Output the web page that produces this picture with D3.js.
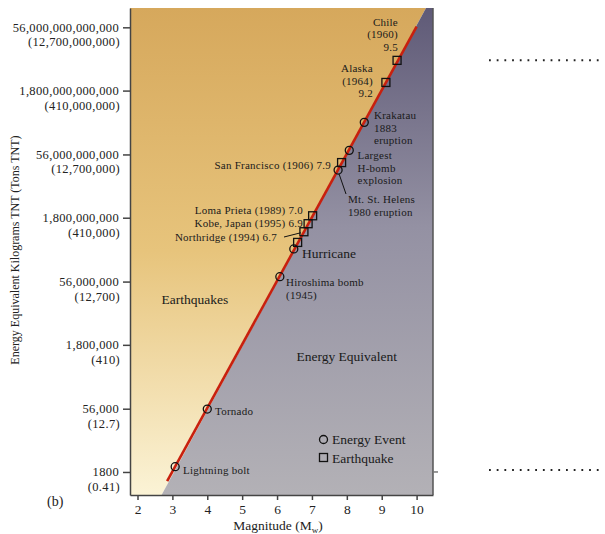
<!DOCTYPE html>
<html>
<head>
<meta charset="utf-8">
<script src="https://cdn.jsdelivr.net/npm/d3@7"></script>
<style>
  body { margin: 0; background: #fff; }
  svg { display: block; font-family: "Liberation Serif", "DejaVu Serif", serif; }
</style>
</head>
<body>
<svg id="chart" width="605" height="534"></svg>
<script>
// magnitude ticks and energy ticks (kg TNT, with tons in brackets)
const xTicks = [2, 3, 4, 5, 6, 7, 8, 9, 10];
const yTicks = [1800, 56000, 1.8e6, 5.6e7, 1.8e9, 5.6e10, 1.8e12, 5.6e13];
const yTickKg = ["1800", "56,000", "1,800,000", "56,000,000", "1,800,000,000",
  "56,000,000,000", "1,800,000,000,000", "56,000,000,000,000"];
const yTickTons = ["(0.41)", "(12.7)", "(410)", "(12,700)", "(410,000)",
  "(12,700,000)", "(410,000,000)", "(12,700,000,000)"];

// red trend line end points [magnitude, kg]
const trendLine = [[2.85, 1100], [10.0, 5.8e13]];
// edge between the two shaded areas
const areaEdge = [[2.69, 515], [10.27, 1.6e14]];

// energy events (circles)
const eventNames = ["Lightning bolt", "Tornado", "Hiroshima bomb", "Hurricane",
  "Mt. St. Helens", "Largest H-bomb", "Krakatau"];
const eventMag = [3.08, 4.0, 6.08, 6.48, 7.75, 8.07, 8.5];
const eventKg = [2400, 55000, 7.3e7, 3.3e8, 2.4e10, 7.0e10, 3.2e11];

// earthquakes (squares)
const quakeNames = ["Chile", "Alaska", "San Francisco", "Loma Prieta", "Kobe",
  "Northridge", ""];
const quakeMag = [9.44, 9.12, 7.85, 7.02, 6.89, 6.77, 6.59];
const quakeKg = [9.3e12, 2.8e12, 3.6e10, 2.0e9, 1.3e9, 8.4e8, 4.7e8];

const svg = d3.select("#chart");
const plotLeft = 130, plotRight = 433, plotTop = 8, plotBottom = 495;

const xScale = d3.scaleLinear().domain([1.785, 10.47]).range([plotLeft, plotRight]);
const yScale = d3.scaleLog().domain([515, 1.6e14]).range([plotBottom, plotTop]);

// gradients
const defs = svg.append("defs");
const tanGrad = defs.append("linearGradient").attr("id", "tan")
  .attr("x1", 0).attr("y1", 0).attr("x2", 0).attr("y2", 1);
tanGrad.append("stop").attr("offset", "0%").attr("stop-color", "#d6a85c");
tanGrad.append("stop").attr("offset", "50%").attr("stop-color", "#e7c47c");
tanGrad.append("stop").attr("offset", "100%").attr("stop-color", "#fbf3d6");
const greyGrad = defs.append("linearGradient").attr("id", "grey")
  .attr("x1", 0).attr("y1", 0).attr("x2", 0).attr("y2", 1);
greyGrad.append("stop").attr("offset", "0%").attr("stop-color", "#5f5a77");
greyGrad.append("stop").attr("offset", "45%").attr("stop-color", "#9491a3");
greyGrad.append("stop").attr("offset", "100%").attr("stop-color", "#b3b1b6");

const e0 = [xScale(areaEdge[0][0]), yScale(areaEdge[0][1])];
const e1 = [xScale(areaEdge[1][0]), yScale(areaEdge[1][1])];

svg.append("polygon")
  .attr("points", [[plotLeft, plotTop], [plotLeft, plotBottom], e0, e1].map((p) => p.join(",")).join(" "))
  .attr("fill", "url(#tan)");
svg.append("polygon")
  .attr("points", [e0, e1, [plotRight, plotTop], [plotRight, plotBottom]].map((p) => p.join(",")).join(" "))
  .attr("fill", "url(#grey)");

// trend line
svg.append("path")
  .datum(trendLine)
  .attr("d", d3.line().x((d) => xScale(d[0])).y((d) => yScale(d[1])))
  .attr("stroke", "#c8200e")
  .attr("stroke-width", 2.6)
  .attr("fill", "none");

// x axis
const xAxis = svg.append("g")
  .attr("transform", `translate(0,${plotBottom})`)
  .call(d3.axisBottom(xScale).tickValues(xTicks).tickSize(5).tickSizeOuter(0).tickPadding(4));
xAxis.select(".domain").attr("stroke", "#444").attr("stroke-width", 1.5);
xAxis.selectAll(".tick line").attr("stroke", "#444").attr("stroke-width", 1.5);
xAxis.selectAll(".tick text")
  .attr("font-family", "Liberation Serif, serif")
  .attr("font-size", 13.5)
  .attr("fill", "#222");

// y axis
const yAxis = svg.append("g")
  .attr("transform", `translate(${plotLeft},0)`)
  .call(d3.axisLeft(yScale).tickValues(yTicks).tickSize(7).tickSizeOuter(0).tickFormat(() => ""));
yAxis.select(".domain").attr("stroke", "#444").attr("stroke-width", 1.5);
yAxis.selectAll(".tick line").attr("stroke", "#444").attr("stroke-width", 1.5);
yAxis.selectAll(".tick text").remove();
yAxis.selectAll(".tick").each(function (d, i) {
  const g = d3.select(this);
  const style = (t) => t
    .attr("text-anchor", "end")
    .attr("font-family", "Liberation Serif, serif")
    .attr("font-size", 12.5)
    .attr("letter-spacing", 0.35)
    .attr("fill", "#222");
  g.append("text").call(style).attr("x", -11).attr("y", 4).text(yTickKg[i]);
  g.append("text").call(style).attr("x", -10).attr("y", 18.5).text(yTickTons[i]);
});

// right border with its tick
svg.append("line")
  .attr("x1", plotRight).attr("x2", plotRight).attr("y1", plotTop).attr("y2", plotBottom)
  .attr("stroke", "#555").attr("stroke-width", 1.5);
svg.append("line")
  .attr("x1", plotRight).attr("x2", plotRight + 5)
  .attr("y1", yScale(yTicks[0])).attr("y2", yScale(yTicks[0]))
  .attr("stroke", "#777").attr("stroke-width", 1.5);

// dotted leaders to the right
svg.selectAll("line.dots")
  .data([quakeKg[0], 2000])
  .enter()
  .append("line")
  .attr("class", "dots")
  .attr("x1", 489).attr("x2", 603)
  .attr("y1", (d) => yScale(d)).attr("y2", (d) => yScale(d))
  .attr("stroke", "#222")
  .attr("stroke-width", 2)
  .attr("stroke-dasharray", "1.8 5.9");

// axis titles
svg.append("text")
  .attr("transform", "translate(19,250) rotate(-90)")
  .attr("text-anchor", "middle")
  .attr("font-size", 12)
  .attr("fill", "#222")
  .text("Energy Equivalent Kilograms TNT (Tons TNT)");

const xTitle = svg.append("text")
  .attr("x", 278).attr("y", 530)
  .attr("text-anchor", "middle")
  .attr("font-size", 13.5)
  .attr("fill", "#222");
xTitle.append("tspan").text("Magnitude (M");
xTitle.append("tspan").attr("font-size", 9).attr("dy", 3).text("w");
xTitle.append("tspan").attr("dy", -3).text(")");

svg.append("text")
  .attr("x", 47).attr("y", 506)
  .attr("font-size", 14)
  .attr("fill", "#222")
  .text("(b)");

// markers
svg.selectAll("circle.event")
  .data(eventMag)
  .enter()
  .append("circle")
  .attr("class", "event")
  .attr("cx", (d) => xScale(d))
  .attr("cy", (d, i) => yScale(eventKg[i]))
  .attr("r", 4)
  .attr("fill", "none")
  .attr("stroke", "#111")
  .attr("stroke-width", 1.3);

svg.selectAll("rect.quake")
  .data(quakeMag)
  .enter()
  .append("rect")
  .attr("class", "quake")
  .attr("x", (d) => xScale(d) - 4)
  .attr("y", (d, i) => yScale(quakeKg[i]) - 4)
  .attr("width", 8)
  .attr("height", 8)
  .attr("fill", "none")
  .attr("stroke", "#111")
  .attr("stroke-width", 1.3);

// leader lines
const stHelens = [xScale(eventMag[4]), yScale(eventKg[4])];
svg.append("line")
  .attr("x1", stHelens[0] + 1).attr("y1", stHelens[1] + 4)
  .attr("x2", 346).attr("y2", 194)
  .attr("stroke", "#111").attr("stroke-width", 1);
svg.append("line")
  .attr("x1", 284).attr("y1", 237)
  .attr("x2", xScale(quakeMag[5]) - 3).attr("y2", yScale(quakeKg[5]) + 1)
  .attr("stroke", "#111").attr("stroke-width", 1);

// text labels
const labels = [
  { x: 398, y: 25.5, a: "end", lines: ["Chile", "(1960)", "9.5"] },
  { x: 373, y: 72, a: "end", lines: ["Alaska", "(1964)", "9.2"] },
  { x: 374, y: 119, a: "start", lines: ["Krakatau", "1883", "eruption"] },
  { x: 357.5, y: 159, a: "start", lines: ["Largest", "H-bomb", "explosion"] },
  { x: 331, y: 169, a: "end", lines: ["San Francisco (1906) 7.9"] },
  { x: 348, y: 203, a: "start", lines: ["Mt. St. Helens", "1980 eruption"] },
  { x: 303, y: 214.4, a: "end", lines: ["Loma Prieta (1989) 7.0"] },
  { x: 303, y: 227.3, a: "end", lines: ["Kobe, Japan (1995) 6.9"] },
  { x: 277, y: 240.5, a: "end", lines: ["Northridge (1994) 6.7"] },
  { x: 302, y: 258, a: "start", lines: ["Hurricane"], s: 13.5 },
  { x: 286, y: 286, a: "start", lines: ["Hiroshima bomb", "(1945)"] },
  { x: 161.5, y: 304, a: "start", lines: ["Earthquakes"], s: 13.5 },
  { x: 296.5, y: 361, a: "start", lines: ["Energy Equivalent"], s: 13.5 },
  { x: 215, y: 414.5, a: "start", lines: ["Tornado"] },
  { x: 183, y: 474, a: "start", lines: ["Lightning bolt"] },
  { x: 332, y: 444, a: "start", lines: ["Energy Event"], s: 13.5 },
  { x: 332, y: 462.5, a: "start", lines: ["Earthquake"], s: 13.5 },
];

labels.forEach((l) => {
  l.lines.forEach((line, i) => {
    svg.append("text")
      .attr("x", l.x)
      .attr("y", l.y + i * 12.7)
      .attr("text-anchor", l.a)
      .attr("font-size", l.s || 11)
      .attr("letter-spacing", l.s ? 0 : 0.25)
      .attr("fill", "#1a1a1a")
      .text(line);
  });
});

// legend symbols
svg.append("circle")
  .attr("cx", 323.5).attr("cy", 439.5).attr("r", 4)
  .attr("fill", "none").attr("stroke", "#111").attr("stroke-width", 1.3);
svg.append("rect")
  .attr("x", 319.5).attr("y", 453.5).attr("width", 8).attr("height", 8)
  .attr("fill", "none").attr("stroke", "#111").attr("stroke-width", 1.3);
</script>
</body>
</html>
